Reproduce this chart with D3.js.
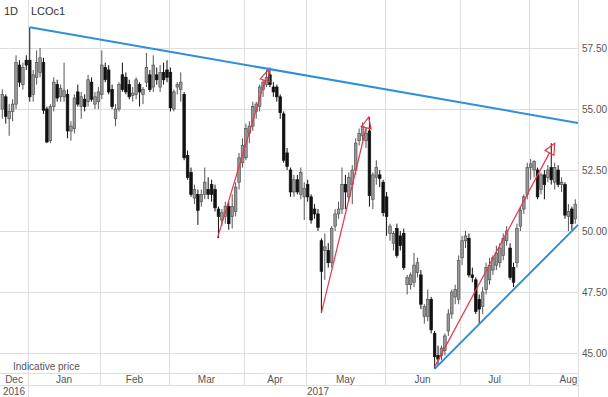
<!DOCTYPE html>
<html>
<head>
<meta charset="utf-8">
<script src="https://cdn.jsdelivr.net/npm/d3@7"></script>
<style>
  body { margin: 0; background: #fff; }
  text { font-family: "Liberation Sans", Arial, sans-serif; }
</style>
</head>
<body>
<div id="chart"></div>
<script>
// month labels and how many daily bars fall in each one
var months = ["Dec", "Jan", "Feb", "Mar", "Apr", "May", "Jun", "Jul", "Aug"];
var monthBars = [8, 21, 20, 22, 18, 23, 22, 20, 14];
var years = [["2016", 0], ["2017", 1]]; // label, first month index

var yTicks = [45, 47.5, 50, 52.5, 55, 57.5];

// daily candles: [open, high, low, close]
var candles = [
  // Dec
  [55.0, 55.8, 54.6, 55.6], [55.5, 55.6, 54.4, 54.7], [54.6, 55.2, 53.9, 54.9], [54.9, 55.4, 54.5, 55.2],
  [55.2, 57.2, 55.0, 56.9], [56.8, 57.0, 55.9, 56.1], [56.0, 56.9, 55.8, 56.7], [57.0, 57.2, 56.6, 56.8],
  // Jan
  [57.0, 58.35, 55.3, 55.5], [55.6, 56.6, 55.3, 56.4], [56.3, 57.4, 56.0, 56.9], [56.5, 57.5, 56.3, 57.1],
  [56.9, 57.1, 54.8, 54.95], [55.0, 55.1, 53.6, 53.65], [53.7, 55.2, 53.6, 55.1], [55.1, 56.3, 54.9, 56.1],
  [56.0, 56.2, 55.3, 55.45], [55.5, 56.0, 55.3, 55.85], [55.5, 56.9, 55.3, 55.75], [55.6, 55.8, 53.8, 54.1],
  [54.1, 54.5, 53.7, 54.3], [54.2, 55.6, 54.0, 55.45], [55.7, 56.0, 55.1, 55.2], [55.1, 55.7, 54.6, 55.5],
  [55.4, 55.6, 54.9, 55.1], [55.3, 56.4, 55.1, 56.2], [56.1, 56.3, 55.3, 55.4], [55.2, 55.7, 55.0, 55.5],
  [55.3, 55.9, 55.0, 55.7],
  // Feb
  [55.6, 57.4, 55.4, 56.8], [56.7, 56.9, 56.1, 56.2], [56.6, 56.8, 55.6, 55.7], [55.8, 56.0, 55.0, 55.1],
  [54.6, 55.2, 54.3, 55.0], [55.0, 56.1, 54.9, 56.0], [56.4, 56.9, 55.7, 55.8], [56.3, 56.5, 55.6, 55.7],
  [56.0, 56.2, 55.4, 55.5], [55.55, 55.9, 55.3, 55.65], [55.6, 56.3, 55.4, 56.2], [56.0, 56.1, 55.1, 55.7],
  [55.6, 55.9, 55.2, 55.8], [56.1, 57.3, 55.9, 56.7], [56.4, 56.6, 55.7, 55.8], [55.9, 57.2, 55.7, 56.8],
  [56.4, 56.7, 56.0, 56.2], [55.9, 56.8, 55.7, 56.5], [56.5, 56.9, 56.0, 56.2], [56.6, 57.0, 56.1, 56.3],
  // Mar
  [56.5, 56.7, 54.9, 55.05], [55.0, 55.8, 54.9, 55.7], [55.9, 56.1, 55.6, 56.0], [55.8, 56.5, 55.3, 56.1],
  [55.6, 55.7, 52.9, 53.0], [53.1, 53.3, 52.1, 52.2], [52.4, 52.6, 51.4, 51.5], [51.35, 51.9, 51.1, 51.7],
  [51.5, 51.7, 50.25, 50.85], [51.2, 51.7, 51.0, 51.5], [51.5, 52.6, 51.3, 52.0], [51.7, 52.2, 51.3, 51.5],
  [51.9, 52.1, 51.2, 51.5], [51.7, 51.9, 50.8, 50.95], [50.9, 51.0, 49.71, 50.6], [50.45, 50.9, 50.2, 50.75],
  [50.6, 51.2, 50.3, 51.0], [51.0, 51.2, 50.05, 50.3], [50.6, 51.5, 50.1, 51.0], [50.8, 52.0, 50.6, 51.8],
  [52.0, 53.2, 51.7, 53.0], [52.8, 53.8, 52.6, 53.5],
  // Apr
  [53.0, 54.4, 52.9, 54.2], [54.0, 54.5, 53.6, 54.3], [54.3, 55.3, 54.1, 55.1], [54.9, 55.3, 54.6, 55.2],
  [55.1, 56.0, 54.9, 55.9], [55.8, 56.2, 55.5, 56.1], [56.0, 56.6, 55.9, 56.3], [56.4, 56.7, 55.9, 56.0],
  [55.9, 56.1, 55.5, 55.7], [55.9, 56.0, 55.3, 55.5], [55.5, 55.6, 54.6, 54.85], [54.8, 54.9, 52.8, 52.9],
  [53.2, 53.4, 52.5, 52.65], [52.5, 52.6, 51.4, 51.6], [51.6, 52.3, 51.4, 52.1], [52.1, 52.3, 51.5, 51.6],
  [51.5, 52.6, 51.3, 52.4], [51.4, 52.0, 50.45, 51.75],
  // May
  [51.9, 52.1, 51.2, 51.4], [51.4, 51.5, 50.3, 50.45], [50.9, 51.1, 50.5, 50.7], [50.7, 50.9, 50.0, 50.15],
  [49.6, 49.7, 46.64, 48.35], [49.2, 49.9, 48.0, 49.35], [49.2, 49.5, 48.5, 48.7], [48.7, 50.2, 48.5, 50.1],
  [50.2, 50.9, 50.0, 50.7], [50.7, 51.2, 50.5, 50.9], [50.9, 52.6, 50.7, 51.9], [51.9, 52.3, 50.9, 51.6],
  [51.4, 52.4, 51.2, 52.2], [51.9, 52.7, 51.1, 52.5], [52.5, 53.8, 52.3, 53.6], [53.7, 54.2, 53.5, 54.0],
  [53.9, 54.45, 53.7, 54.3], [53.7, 54.2, 53.4, 54.0], [54.1, 54.67, 51.0, 51.45], [51.3, 52.4, 50.9, 52.3],
  [52.2, 52.9, 51.9, 52.6], [52.3, 52.5, 51.8, 52.15], [52.0, 52.1, 50.6, 50.75],
  // Jun
  [51.4, 51.6, 49.8, 50.6], [49.9, 50.3, 49.6, 50.2], [49.5, 50.0, 49.2, 49.9], [50.1, 50.3, 48.9, 49.0],
  [49.8, 50.0, 49.2, 49.4], [49.9, 50.1, 48.4, 48.5], [47.8, 48.2, 47.4, 48.1], [47.8, 48.3, 47.6, 48.2],
  [47.9, 49.1, 47.7, 48.6], [48.3, 48.9, 48.1, 48.7], [48.2, 48.4, 46.8, 47.0], [46.5, 47.0, 46.2, 46.9],
  [46.5, 47.6, 46.3, 47.2], [47.2, 47.3, 45.8, 45.95], [45.8, 45.9, 44.35, 44.85], [44.9, 45.3, 44.5, 44.75],
  [44.9, 45.3, 44.7, 45.2], [45.1, 45.8, 44.9, 45.7], [45.9, 46.8, 45.7, 46.6], [46.6, 47.6, 46.4, 47.5],
  [47.3, 47.8, 47.0, 47.6], [47.2, 49.0, 47.0, 48.8],
  // Jul
  [48.9, 49.8, 48.6, 49.6], [49.6, 50.0, 49.3, 49.8], [49.7, 49.9, 48.1, 48.2], [48.2, 48.5, 47.9, 48.1],
  [48.0, 48.1, 46.6, 46.7], [47.2, 47.4, 46.2, 46.8], [46.9, 47.7, 46.6, 47.5], [47.6, 48.7, 47.4, 48.5],
  [48.0, 48.9, 47.8, 48.6], [48.4, 49.0, 48.2, 48.9], [48.6, 49.4, 48.4, 49.1], [48.7, 49.5, 48.5, 49.3],
  [49.0, 49.9, 48.8, 49.7], [49.6, 50.2, 49.4, 50.0], [49.3, 49.5, 48.0, 48.1], [48.5, 48.7, 47.7, 47.9],
  [48.7, 50.3, 48.5, 50.1], [50.2, 51.0, 50.0, 50.85], [50.9, 51.5, 50.7, 51.4], [51.5, 52.8, 51.3, 52.6],
  // Aug
  [52.6, 52.95, 52.1, 52.75], [52.5, 52.9, 52.2, 52.85], [52.5, 52.6, 51.3, 51.4], [51.7, 52.4, 51.5, 52.3],
  [52.3, 52.5, 51.3, 51.9], [52.2, 52.7, 52.0, 52.5], [52.6, 53.6, 51.9, 52.1], [52.0, 52.8, 51.7, 52.6],
  [52.5, 52.7, 51.8, 51.9], [51.9, 52.2, 51.6, 52.0], [51.9, 52.0, 50.5, 50.65], [50.6, 51.1, 50.0, 50.8],
  [50.9, 51.0, 50.05, 50.3], [50.5, 51.3, 50.3, 51.1]
];

// drawn lines as [bar index, price] pairs
var trendLines = [
  [[8, 58.35], [168.3, 54.43]],
  [[126, 44.35], [168.3, 50.25]]
];
var arrows = [
  [[62.7, 49.71], [77.5, 56.6]],
  [[93, 46.64], [106.8, 54.67]],
  [[126, 44.43], [161, 53.6]]
];

var width = 608, height = 397;
var plotRight = 578, plotBottom = 373, monthRowBottom = 385;

var svg = d3.select("#chart").append("svg")
    .attr("width", width)
    .attr("height", height);

var x = d3.scaleLinear().domain([0, 168]).range([0.6, 577]);
var y = d3.scaleLinear().domain([45, 57.5]).range([353, 48]);

var bw = 2.6;
var grid = "#dedede";

// month boundaries
var starts = [0];
monthBars.forEach(function(n, i) { starts.push(starts[i] + n); });

// horizontal grid + right axis labels
svg.selectAll(".hgrid")
    .data(yTicks)
    .enter().append("line")
    .attr("x1", 0).attr("x2", plotRight)
    .attr("y1", function(d) { return Math.round(y(d)) + 0.5; })
    .attr("y2", function(d) { return Math.round(y(d)) + 0.5; })
    .style("stroke", grid);

svg.selectAll(".ylab")
    .data(yTicks)
    .enter().append("text")
    .attr("x", 582)
    .attr("y", function(d) { return y(d) + 4; })
    .style("font-size", "10px")
    .style("fill", "#555")
    .text(function(d) { return d3.format(".2f")(d); });

// vertical month lines run down through the month row
svg.selectAll(".vgrid")
    .data(starts.slice(1, -1))
    .enter().append("line")
    .attr("x1", function(d) { return Math.round(x(d)) + 0.5; })
    .attr("x2", function(d) { return Math.round(x(d)) + 0.5; })
    .attr("y1", 0).attr("y2", monthRowBottom)
    .style("stroke", grid);

// frame lines
svg.append("line")
    .attr("x1", plotRight + 0.5).attr("x2", plotRight + 0.5)
    .attr("y1", 0).attr("y2", height)
    .style("stroke", grid);
[plotBottom, monthRowBottom, height - 0.5].forEach(function(v) {
  svg.append("line")
      .attr("x1", 0).attr("x2", plotRight)
      .attr("y1", Math.round(v) + 0.5).attr("y2", Math.round(v) + 0.5)
      .style("stroke", grid);
});

// year divider in year row
years.slice(1).forEach(function(yr) {
  var xv = Math.round(x(starts[yr[1]])) + 0.5;
  svg.append("line").attr("x1", xv).attr("x2", xv).attr("y1", monthRowBottom).attr("y2", height)
      .style("stroke", grid);
});

// month labels, last one runs to the full width
svg.selectAll(".mlab")
    .data(months)
    .enter().append("text")
    .attr("x", function(d, i) {
      var a = i === 0 ? 0 : x(starts[i]);
      var b = i === months.length - 1 ? width : x(starts[i + 1]);
      return (a + b) / 2;
    })
    .attr("y", 383)
    .attr("text-anchor", "middle")
    .style("font-size", "10px")
    .style("fill", "#555")
    .text(function(d) { return d; });

svg.selectAll(".ylabel")
    .data(years)
    .enter().append("text")
    .attr("x", function(d, i) {
      var a = i === 0 ? 0 : x(starts[d[1]]);
      var b = i === years.length - 1 ? width : x(starts[years[i + 1][1]]);
      return (a + b) / 2;
    })
    .attr("y", 395)
    .attr("text-anchor", "middle")
    .style("font-size", "10px")
    .style("fill", "#555")
    .text(function(d) { return d[0]; });

svg.append("text").attr("x", 13).attr("y", 370)
    .style("font-size", "10px").style("fill", "#555")
    .text("Indicative price");

svg.append("text").attr("x", 4).attr("y", 15)
    .style("font-size", "11px").style("fill", "#333").text("1D");
svg.append("text").attr("x", 31).attr("y", 15)
    .style("font-size", "11px").style("fill", "#333").text("LCOc1");

// candles
var g = svg.append("g");
var c = g.selectAll(".candle")
    .data(candles)
    .enter().append("g");

c.append("line")
    .attr("x1", function(d, i) { return x(i + 0.5); })
    .attr("x2", function(d, i) { return x(i + 0.5); })
    .attr("y1", function(d) { return y(d[1]); })
    .attr("y2", function(d) { return y(d[2]); })
    .style("stroke", function(d) { return d[3] >= d[0] ? "#555" : "#111"; })
    .style("stroke-width", 1);

c.append("rect")
    .attr("x", function(d, i) { return x(i + 0.5) - bw / 2; })
    .attr("width", bw)
    .attr("y", function(d) { return y(Math.max(d[0], d[3])); })
    .attr("height", function(d) { return Math.max(1, Math.abs(y(d[0]) - y(d[3]))); })
    .style("fill", function(d) { return d[3] >= d[0] ? "#999" : "#111"; })
    .style("stroke", function(d) { return d[3] >= d[0] ? "#555" : "#111"; })
    .style("stroke-width", 0.7);

// blue trend lines
svg.selectAll(".trend")
    .data(trendLines)
    .enter().append("line")
    .attr("x1", function(d) { return x(d[0][0] + 0.5); })
    .attr("y1", function(d) { return y(d[0][1]); })
    .attr("x2", function(d) { return Math.min(plotRight, x(d[1][0] + 0.5)); })
    .attr("y2", function(d) { return y(d[1][1]); })
    .style("stroke", "#2f8fd8")
    .style("stroke-width", 2);

// red arrows with open triangle heads
var red = "#e8354a";
arrows.forEach(function(a) {
  var x1 = x(a[0][0] + 0.5), y1 = y(a[0][1]);
  var x2 = x(a[1][0] + 0.5), y2 = y(a[1][1]);
  var ang = Math.atan2(y2 - y1, x2 - x1);
  var len = 11, half = 5;
  var bx = x2 - len * Math.cos(ang), by = y2 - len * Math.sin(ang);
  svg.append("line")
      .attr("x1", x1).attr("y1", y1).attr("x2", bx).attr("y2", by)
      .style("stroke", red).style("stroke-width", 1.2);
  var pts = [
    [x2, y2],
    [bx + half * Math.sin(ang), by - half * Math.cos(ang)],
    [bx - half * Math.sin(ang), by + half * Math.cos(ang)]
  ];
  svg.append("polygon")
      .attr("points", pts.map(function(p) { return p.join(","); }).join(" "))
      .style("fill", "none")
      .style("stroke", red)
      .style("stroke-width", 1.2);
});
</script>
</body>
</html>
